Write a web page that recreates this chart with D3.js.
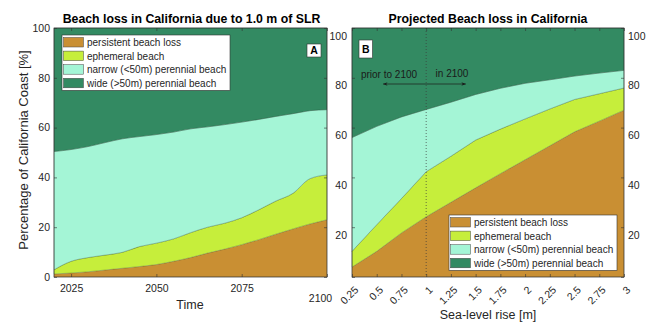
<!DOCTYPE html>
<html>
<head>
<meta charset="utf-8">
<script src="https://cdn.jsdelivr.net/npm/d3@7"></script>
<style>
  body { margin: 0; background: #fff; }
  svg { font-family: "Liberation Sans", Arial, sans-serif; }
</style>
</head>
<body>
<div id="chart"></div>
<script>
// layer names, bottom to top
const layers = ['persistent beach loss', 'ephemeral beach', 'narrow (<50m) perennial beach', 'wide (>50m) perennial beach'];
const layerColors = ['#c98f33', '#c6ee3b', '#a4f5d6', '#338a62'];

// panel A: share of coast per layer over time (1.0 m SLR)
const years = [2020, 2025, 2030, 2035, 2040, 2045, 2050, 2055, 2060, 2065, 2070, 2075, 2080, 2085, 2090, 2095, 2100];
const persistentA = [1.2, 1.6, 2.1, 2.8, 3.5, 4.2, 5.0, 6.3, 7.8, 9.6, 11.2, 13.0, 15.0, 17.2, 19.3, 21.3, 23.0];
const ephemeralA = [1.7, 4.7, 5.7, 6.0, 6.4, 8.0, 8.6, 9.0, 10.0, 10.4, 10.4, 10.8, 12.0, 13.3, 14.3, 18.2, 18.0];
const narrowA = [47.5, 44.9, 44.6, 45.2, 45.6, 44.2, 43.6, 42.9, 41.7, 40.3, 39.6, 38.4, 36.3, 34.0, 32.0, 27.3, 26.2];
const wideA = [49.6, 48.8, 47.6, 46.0, 44.5, 43.6, 42.8, 41.8, 40.5, 39.7, 38.8, 37.8, 36.7, 35.5, 34.4, 33.2, 32.8];
const yearTicks = [2025, 2050, 2075, 2100];

// panel B: share of coast per layer vs sea-level rise
const slr = [0.25, 0.5, 0.75, 1, 1.25, 1.5, 1.75, 2, 2.25, 2.5, 2.75, 3];
const persistentB = [4.0, 10.3, 17.7, 24.2, 30.0, 35.8, 41.5, 47.1, 52.7, 58.3, 62.6, 67.0];
const ephemeralB = [6.3, 10.7, 13.8, 18.1, 18.5, 19.2, 17.9, 16.4, 14.8, 13.0, 11.0, 8.9];
const narrowB = [45.7, 39.5, 32.8, 25.0, 21.7, 18.3, 16.4, 14.3, 11.7, 9.4, 8.3, 7.1];
const wideB = [44.0, 39.5, 35.7, 32.7, 29.8, 26.7, 24.2, 22.2, 20.8, 19.3, 18.1, 17.0];
const slrTicks = [0.25, 0.5, 0.75, 1, 1.25, 1.5, 1.75, 2, 2.25, 2.5, 2.75, 3];

const pctTicks = [0, 20, 40, 60, 80, 100];

const width = 656, height = 331;
const plotTop = 28, plotBottom = 277;
const frameColor = '#333';
const tickFont = 10.5;
const labelFont = 12.5;
const titleFont = 12.3;

const svg = d3.select('#chart').append('svg').attr('width', width).attr('height', height);

function rows(xs, a, b, c, d) {
	return xs.map((x, i) => ({ x: x, [layers[0]]: a[i], [layers[1]]: b[i], [layers[2]]: c[i], [layers[3]]: d[i] }));
}

function drawAreas(g, data, x, y, curve) {
	const stacked = d3.stack().keys(layers)(data);
	const area = d3.area()
		.x(d => x(d.data.x))
		.y0(d => y(d[0]))
		.y1(d => y(d[1]))
		.curve(curve);
	g.selectAll('path.layer')
		.data(stacked)
		.enter()
		.append('path')
		.attr('class', 'layer')
		.attr('d', area)
		.attr('fill', (d, i) => layerColors[i])
		.attr('stroke', '#1d3d2c')
		.attr('stroke-width', 0.5)
		.attr('stroke-opacity', (d, i) => i === 0 ? 0.15 : 0.55);
}

function styleAxis(a) {
	a.select('.domain').remove();
	a.selectAll('line').attr('stroke', frameColor).attr('stroke-width', 0.6);
	a.selectAll('text').attr('fill', '#262626').style('font-size', tickFont + 'px');
}

function frame(g, x0, x1) {
	g.append('rect')
		.attr('x', x0).attr('y', plotTop)
		.attr('width', x1 - x0).attr('height', plotBottom - plotTop)
		.attr('fill', 'none')
		.attr('stroke', frameColor)
		.attr('stroke-width', 0.7);
}

function legend(g, lx, ly, lw) {
	const rowH = 13.6;
	g.append('rect')
		.attr('x', lx).attr('y', ly)
		.attr('width', lw).attr('height', rowH * 4 + 1)
		.attr('fill', '#fff')
		.attr('stroke', frameColor)
		.attr('stroke-width', 0.6);
	const item = g.selectAll('g.item')
		.data(layers)
		.enter()
		.append('g')
		.attr('class', 'item')
		.attr('transform', (d, i) => `translate(${lx + 1.5},${ly + 2.5 + i * rowH})`);
	item.append('rect')
		.attr('width', 20).attr('height', 9.5)
		.attr('fill', (d, i) => layerColors[i])
		.attr('stroke', '#444')
		.attr('stroke-width', 0.5);
	item.append('text')
		.attr('x', 23.5).attr('y', 5)
		.attr('dy', '0.35em')
		.attr('fill', '#262626')
		.style('font-size', '10px')
		.text(d => d);
}

function letterBox(g, bx, by, bw, bh, letter) {
	g.append('rect')
		.attr('x', bx).attr('y', by)
		.attr('width', bw).attr('height', bh)
		.attr('fill', '#fff')
		.attr('stroke', frameColor)
		.attr('stroke-width', 0.6);
	g.append('text')
		.attr('x', bx + bw / 2).attr('y', by + bh / 2)
		.attr('dy', '0.36em')
		.attr('text-anchor', 'middle')
		.style('font-size', '10.5px')
		.style('font-weight', 'bold')
		.text(letter);
}

// ---------- panel A ----------
const xA = d3.scaleLinear().domain([2020, 2100]).range([54, 327]);
const yA = d3.scaleLinear().domain([0, 100]).range([plotBottom, plotTop]);
const gA = svg.append('g');

drawAreas(gA, rows(years, persistentA, ephemeralA, narrowA, wideA), xA, yA, d3.curveMonotoneX);

gA.append('g').attr('transform', `translate(0,${plotBottom})`)
	.call(d3.axisBottom(xA).tickValues(yearTicks).tickFormat(d3.format('d')).tickSizeInner(-3).tickSizeOuter(0).tickPadding(8))
	.call(styleAxis)
	.call(a => a.selectAll('.tick').filter(d => d === 2100).select('text').attr('x', -7).attr('y', 18));
gA.append('g').attr('transform', `translate(0,${plotTop})`)
	.call(d3.axisTop(xA).tickValues(yearTicks).tickFormat('').tickSizeInner(-3).tickSizeOuter(0))
	.call(styleAxis);
gA.append('g').attr('transform', `translate(54,0)`)
	.call(d3.axisLeft(yA).tickValues(pctTicks).tickSizeInner(-3).tickSizeOuter(0).tickPadding(4))
	.call(styleAxis);
gA.append('g').attr('transform', `translate(327,0)`)
	.call(d3.axisRight(yA).tickValues(pctTicks).tickFormat('').tickSizeInner(-3).tickSizeOuter(0))
	.call(styleAxis);
frame(gA, 54, 327);
legend(gA, 62, 35, 168);
letterBox(gA, 307, 44, 14, 13, 'A');

gA.append('text')
	.attr('x', 191.5).attr('y', 23)
	.attr('text-anchor', 'middle')
	.style('font-size', titleFont + 'px').style('font-weight', 'bold')
	.text('Beach loss in California due to 1.0 m of SLR');
gA.append('text')
	.attr('x', 190).attr('y', 308.5)
	.attr('text-anchor', 'middle')
	.attr('fill', '#262626')
	.style('font-size', labelFont + 'px')
	.text('Time');
gA.append('text')
	.attr('transform', 'translate(27.5,150) rotate(-90)')
	.attr('text-anchor', 'middle')
	.attr('fill', '#262626')
	.style('font-size', '13px')
	.text('Percentage of California Coast [%]');

// ---------- panel B ----------
const xB = d3.scaleLinear().domain([0.25, 3]).range([352, 624]);
const yB = d3.scaleLinear().domain([0, 100]).range([plotBottom, plotTop]);
const gB = svg.append('g');

drawAreas(gB, rows(slr, persistentB, ephemeralB, narrowB, wideB), xB, yB, d3.curveLinear);

gB.append('line')
	.attr('x1', xB(1)).attr('x2', xB(1))
	.attr('y1', plotTop).attr('y2', plotBottom)
	.attr('stroke', '#3a3a3a')
	.attr('stroke-width', 0.7)
	.attr('stroke-dasharray', '1,2');

gB.append('g').attr('transform', `translate(0,${plotBottom})`)
	.call(d3.axisBottom(xB).tickValues(slrTicks).tickFormat(d => String(d)).tickSizeInner(-3).tickSizeOuter(0))
	.call(styleAxis)
	.call(a => a.selectAll('text')
		.attr('y', 0).attr('dy', '0.35em')
		.attr('text-anchor', 'end')
		.attr('transform', 'translate(4,11) rotate(-45)'));
gB.append('g').attr('transform', `translate(0,${plotTop})`)
	.call(d3.axisTop(xB).tickValues(slrTicks).tickFormat('').tickSizeInner(-3).tickSizeOuter(0))
	.call(styleAxis);
gB.append('g').attr('transform', `translate(352,0)`)
	.call(d3.axisLeft(yB).tickValues(pctTicks).tickFormat(d => d === 0 ? '' : d).tickSizeInner(-3).tickSizeOuter(0).tickPadding(5))
	.call(styleAxis)
	.call(a => a.selectAll('text').attr('dy', '1.05em'));
gB.append('g').attr('transform', `translate(624,0)`)
	.call(d3.axisRight(yB).tickValues(pctTicks).tickFormat(d => d === 0 ? '' : d).tickSizeInner(-3).tickSizeOuter(0).tickPadding(4))
	.call(styleAxis)
	.call(a => a.selectAll('text').attr('dy', '1.05em'));
frame(gB, 352, 624);
legend(gB, 449, 215, 168);
letterBox(gB, 359, 40, 13.5, 18, 'B');

// arrow: prior to 2100 / in 2100
const defs = svg.append('defs');
defs.append('marker')
	.attr('id', 'head')
	.attr('viewBox', '0 0 10 10')
	.attr('refX', 9).attr('refY', 5)
	.attr('markerWidth', 7).attr('markerHeight', 7)
	.attr('orient', 'auto-start-reverse')
	.append('path')
	.attr('d', 'M0,1.5 L10,5 L0,8.5 L3,5 Z')
	.attr('fill', '#1a1a1a');
gB.append('line')
	.attr('x1', xB(0.565)).attr('x2', xB(1.4))
	.attr('y1', 84).attr('y2', 84)
	.attr('stroke', '#1a1a1a')
	.attr('stroke-width', 0.7)
	.attr('marker-start', 'url(#head)')
	.attr('marker-end', 'url(#head)');
gB.append('text')
	.attr('x', 389).attr('y', 78)
	.attr('text-anchor', 'middle')
	.attr('fill', '#1a1a1a')
	.style('font-size', '10px')
	.text('prior to 2100');
gB.append('text')
	.attr('x', 452).attr('y', 77)
	.attr('text-anchor', 'middle')
	.attr('fill', '#1a1a1a')
	.style('font-size', '10px')
	.text('in 2100');

gB.append('text')
	.attr('x', 488).attr('y', 22.5)
	.attr('text-anchor', 'middle')
	.style('font-size', titleFont + 'px').style('font-weight', 'bold')
	.text('Projected Beach loss in California');
gB.append('text')
	.attr('x', 488).attr('y', 319)
	.attr('text-anchor', 'middle')
	.attr('fill', '#262626')
	.style('font-size', labelFont + 'px')
	.text('Sea-level rise [m]');
</script>
</body>
</html>
